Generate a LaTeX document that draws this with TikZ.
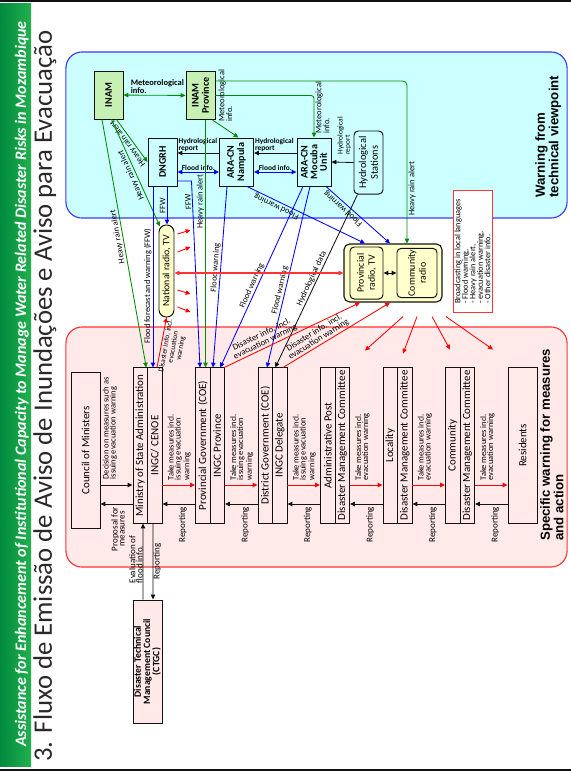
\documentclass[tikz,border=0pt]{standalone}
\usepackage{fontspec}
\setmainfont{Carlito}
\newfontfamily\headfont{Liberation Sans}
\usepackage{xcolor}
\usepackage{tikz}
\usetikzlibrary{arrows.meta,calc}
\definecolor{ink}{HTML}{111111}
\definecolor{techfill}{HTML}{CCFFFF}
\definecolor{techline}{HTML}{3A3AFF}
\definecolor{actfill}{HTML}{FFE9E9}
\definecolor{actline}{HTML}{FF3333}
\definecolor{inamfill}{HTML}{C6F0B4}
\definecolor{radiofill}{HTML}{FFFFCC}
\definecolor{alertgreen}{HTML}{008C00}
\definecolor{warnblue}{HTML}{0000FF}
\definecolor{warnred}{HTML}{FF0000}
\definecolor{bardark}{HTML}{008A3E}
\definecolor{barlight}{HTML}{22B04E}
\tikzset{
  techbox/.style={rectangle, rotate=90, draw=ink, line width=0.7pt, fill=techfill, align=center, inner sep=1pt, minimum width=1.2cm, minimum height=0.725cm, font=\fontsize{7.2}{7.3}\selectfont\bfseries},
  inambox/.style={techbox, fill=inamfill},
  stationbox/.style={techbox, rounded corners=3pt, font=\fontsize{7.4}{8.4}\selectfont},
  radiobox/.style={rectangle, rotate=90, rounded corners=3pt, draw=ink, line width=0.7pt, fill=radiofill, align=center, inner sep=1pt, font=\fontsize{7}{7.8}\selectfont},
  groupbox/.style={rectangle, rounded corners=4pt, draw=ink, line width=0.8pt, fill=radiofill, minimum width=2.45cm, minimum height=1.45cm},
  notebox/.style={rectangle, rotate=90, draw=actline, line width=0.7pt, fill=white, align=left, inner sep=1pt, minimum width=3.025cm, minimum height=0.975cm, font=\fontsize{5.9}{5.3}\selectfont},
  orgbox/.style={rectangle, rotate=90, draw=ink, line width=0.7pt, fill=actfill, align=center, inner sep=0.5pt, minimum width=3.875cm, minimum height=0.3625cm, font=\fontsize{7.8}{8}\selectfont},
  wideorgbox/.style={orgbox, minimum height=0.725cm},
  zone/.style={rectangle, rounded corners=0.4cm, line width=0.8pt, minimum width=12.525cm},
  zonelbl/.style={rotate=90, align=left, inner sep=0pt, font=\headfont\bfseries\fontsize{9.4}{9.6}\selectfont},
  lbl/.style={inner sep=0.8pt, align=center, font=\fontsize{6}{5.6}\selectfont},
  hlbl/.style={inner sep=0.5pt, align=left, font=\fontsize{5.3}{5.1}\selectfont\bfseries},
  measurelbl/.style={rotate=90, inner sep=0pt, align=left, font=\fontsize{6}{5}\selectfont},
  reportlbl/.style={rotate=90, inner sep=0pt, font=\fontsize{6.4}{5}\selectfont},
  arrow/.style={->, line width=0.6pt},
  garrow/.style={arrow, draw=alertgreen},
  barrow/.style={arrow, draw=warnblue},
  rarrow/.style={arrow, draw=warnred},
  karrow/.style={arrow, draw=ink}
}
\begin{document}
\begin{tikzpicture}[x=0.025cm, y=-0.025cm, >={Triangle[length=1.2mm,width=1.1mm]}]
  \useasboundingbox (0,0) rectangle (571,772);
  % title bar
  \fill[left color=bardark, right color=barlight] (0,3) rectangle (31,766);
  \draw[ink, line width=1.4pt] (0,1.2) -- (571,1.2);
  \draw[ink, line width=1.4pt] (0,770) -- (571,770);
  \node[rotate=90, anchor=base, inner sep=0pt, text=white, font=\fontsize{11.4}{11.4}\selectfont\bfseries\itshape] (project) at (26,384) {Assistance for Enhancement of Institutional Capacity to Manage Water Related Disaster Risks in Mozambique};
  \node[rotate=90, anchor=base, inner sep=0pt, text=ink!90, font=\fontsize{19}{19}\selectfont] (title) at (52,396) {3. Fluxo de Emissão de Aviso de Inundações e Aviso para Evacuação};

  % zones
  \node[zone, draw=techline, fill=techfill, minimum height=4.15cm] (techzone) at (316.5,135) {};
  \node[zone, draw=actline, fill=actfill, minimum height=6cm] (actzone) at (316.5,447) {};
  \node[zonelbl, anchor=north west] (techlbl) at (535,198) {Warning from\\technical viewpoint};
  \node[zonelbl, anchor=north west] (actlbl) at (540,541) {Specific warning for measures\\and action};

  % technical side
  \node[inambox] (inam) at (108.5,95) {INAM};
  \node[inambox] (inamprov) at (200.5,95.5) {INAM\\Province};
  \node[techbox] (dngrh) at (162.5,162) {DNGRH};
  \node[techbox, minimum height=0.85cm] (nampula) at (236.5,162) {ARA-CN\\Nampula};
  \node[techbox, minimum height=0.85cm, font=\fontsize{7.2}{6.9}\selectfont\bfseries] (mocuba) at (314,162) {ARA-CN\\Mocuba\\Unit};
  \node[stationbox, minimum width=1.575cm] (hydst) at (368.5,162.5) {Hydrological\\Stations};

  % broadcasters
  \node[radiobox, rounded corners=0.18cm, minimum width=2.3cm, minimum height=0.375cm] (natradio) at (166.5,271) {National radio, TV};
  \node[groupbox] (radiogrp) at (393,273) {};
  \node[radiobox, minimum width=1.3cm, minimum height=0.825cm] (provradio) at (366.5,273) {Provincial\\radio, TV};
  \node[radiobox, minimum width=1.2cm, minimum height=1.0cm] (commradio) at (417,273) {Community\\radio};
  \node[notebox] (bcast) at (472.5,251.5) {Broadcasting in local languages\\- Flood warning,\\- Heavy rain alert,\\- evacuation warning,\\- Other disaster info.};

  % action side
  \node[wideorgbox] (council) at (85.5,450.5) {Council of Ministers};
  \node[orgbox] (ministry) at (140.25,445.5) {Ministry of State Administration};
  \node[orgbox] (ingc) at (154.75,445.5) {INGC/ CENOE};
  \node[orgbox] (provgov) at (202.75,445.5) {Provincial Government (COE)};
  \node[orgbox] (ingcprov) at (217.25,445.5) {INGC Province};
  \node[orgbox] (distgov) at (265.25,445.5) {District Government (COE)};
  \node[orgbox] (ingcdel) at (279.75,445.5) {INGC Delegate};
  \node[orgbox] (adminpost) at (327.75,445.5) {Administrative Post};
  \node[orgbox] (admindmc) at (342.25,445.5) {Disaster Management Committee};
  \node[orgbox] (locality) at (390.25,445.5) {Locality};
  \node[orgbox] (localdmc) at (404.75,445.5) {Disaster Management Committee};
  \node[orgbox] (community) at (452.75,445.5) {Community};
  \node[orgbox] (commdmc) at (467.25,445.5) {Disaster Management Committee};
  \node[wideorgbox] (residents) at (522.5,445.5) {Residents};
  \node[wideorgbox, inner sep=0pt, minimum width=3.075cm, font=\fontsize{6.9}{6.6}\selectfont\bfseries] (ctgc) at (147.5,661.5) {Disaster Technical\\Management Council\\(CTGC)};

  % meteorological and hydrological info
  \draw[garrow, <->] (inam) -- (inamprov) node[hlbl, pos=0.1, anchor=south west, font=\fontsize{6}{5.8}\selectfont\bfseries] {Meteorological\\info.};
  \draw[garrow, rounded corners=2pt] (inamprov.south) -| (mocuba.east) node[lbl, pos=0.97, rotate=90, anchor=north west, align=left] {Meteorological\\info.};
  \draw[garrow] ($(inamprov.west)+(12,0)$) -- ($(nampula.east)+(2,0)$);
  \node[lbl, rotate=90, anchor=north west, align=left] (metlbl) at (217,123) {Meteorological\\info.};
  \draw[karrow] (hydst.north) -- (mocuba.south);
  \node[lbl, rotate=90, anchor=north west, align=left, font=\fontsize{5.3}{5.1}\selectfont] (hydrolbl) at (336,156) {Hydrological\\report};
  \draw[karrow] ($(mocuba.north)+(0,-9)$) -- ($(nampula.south)+(0,-9)$) node[hlbl, pos=1, anchor=south west] {Hydrological\\report};
  \draw[karrow] ($(nampula.north)+(0,-9)$) -- ($(dngrh.south)+(0,-9)$) node[hlbl, pos=1, anchor=south west] {Hydrological\\report};
  \draw[barrow, <->] ($(dngrh.south)+(0,10)$) -- ($(nampula.north)+(0,10)$) node[hlbl, midway, above] {Flood info.};
  \draw[barrow, <->] ($(nampula.south)+(0,10)$) -- ($(mocuba.north)+(0,10)$) node[hlbl, midway, above] {Flood info.};

  % heavy rain alerts
  \draw[garrow] ($(inam.west)+(8,0)$) -- (dngrh.north) node[lbl, midway, rotate=126, anchor=south] {Heavy rain alert};
  \draw[garrow] ($(inam.west)+(3,0)$) -- ($(natradio.east)+(-6.5,2)$) node[lbl, midway, rotate=114, anchor=south] {Heavy rain alert};
  \draw[garrow] ($(inam.west)+(-6.5,0)$) -- ($(ministry.east)+(6,0)$) node[lbl, pos=0.47, rotate=100, anchor=south] {Heavy rain alert};
  \draw[garrow] ($(inamprov.west)+(5,0)$) -- ($(provgov.east)+(2.75,0)$) node[lbl, pos=0.33, rotate=90, anchor=south] {Heavy rain alert};
  \draw[garrow, rounded corners=3pt] ($(inamprov.south)+(0,-14.5)$) -| ($(radiogrp.north)+(14,0)$) node[lbl, pos=0.92, rotate=90, anchor=north west] {Heavy rain alert};

  % flood forecast and warning
  \draw[barrow] ($(dngrh.west)+(4.5,0)$) -- ($(natradio.east)+(0.5,0)$) node[lbl, midway, rotate=90, anchor=south] {FFW};
  \draw[barrow] ($(dngrh.west)+(-9.5,0)$) -- ($(ingc.east)+(-1.75,0)$) node[lbl, pos=0.55, rotate=90, anchor=south] {Flood forecast and warning (FFW)};
  \draw[barrow] ($(dngrh.south)+(0,19)$) -- ++(14,0) -- ($(provgov.east)+(-2.75,0)$) node[lbl, pos=0.11, rotate=93, anchor=south] {FFW};
  \draw[barrow] ($(nampula.west)+(-9.5,0)$) -- ($(ingcprov.east)+(-4.25,0)$) node[lbl, pos=0.45, rotate=86, anchor=south] {Flood warning};
  \draw[barrow] ($(nampula.west)+(10.5,0)$) -- ($(radiogrp.north)+(-28,0)$) node[lbl, pos=0.27, rotate=154, anchor=south] {Flood warning};
  \draw[barrow] ($(mocuba.west)+(-11,0)$) -- ($(ingcprov.east)+(3,0)$) node[lbl, pos=0.56, rotate=66, anchor=south] {Flood warning};
  \draw[barrow] ($(mocuba.west)+(-4,0)$) -- ($(distgov.east)+(1.75,0)$) node[lbl, pos=0.58, rotate=77, anchor=south] {Flood warning};
  \draw[barrow] ($(mocuba.west)+(12,0)$) -- ($(radiogrp.north)+(-3,0)$) node[lbl, pos=0.32, rotate=138, anchor=south] {Flood warning};
  \draw[karrow] ($(hydst.west)+(-11,0)$) -- ($(ingcdel.east)+(-4.5,0)$) node[lbl, midway, rotate=65, anchor=south] {Hydrological data};

  % broadcasting
  \draw[karrow, <->] (provradio.south) -- (commradio.north);
  \draw[rarrow, <->, draw=warnred!80, line width=1pt] (natradio.south |- radiogrp.west) -- (radiogrp.west);
  \draw[rarrow] ($(natradio.south)+(3,-37)$) -- ++(13,-4);
  \draw[rarrow] ($(natradio.south)+(3,-19)$) -- ++(13,-5);
  \draw[rarrow] ($(natradio.south)+(3,19)$) -- ++(13,4);
  \draw[rarrow] ($(natradio.south)+(3,36)$) -- ++(13,5);
  \draw[rarrow] ($(radiogrp.south)+(10,14)$) -- ++(-38,34);
  \draw[rarrow] ($(radiogrp.south)+(24,14)$) -- ++(-14,37);
  \draw[rarrow] ($(radiogrp.south)+(39,14)$) -- ++(18,33);
  \draw[rarrow] ($(radiogrp.south)+(53,14)$) -- ++(47,33);

  % disaster info to media
  \draw[rarrow] ($(ingc.east)+(2.25,0)$) -- (natradio.west) node[lbl, pos=0.45, rotate=80, anchor=north, font=\fontsize{5.2}{5.4}\selectfont] {Disaster info. incl.\\evacuation\\warning};
  \draw[rarrow] ($(ingcprov.east)+(7,0)$) -- ($(radiogrp.south)+(-33,0)$) node[lbl, pos=0.32, rotate=26, anchor=south, font=\fontsize{6.2}{5.8}\selectfont] {Disaster info. incl.\\evacuation warning};
  \draw[rarrow] ($(ingcdel.east)+(3.25,0)$) -- ($(radiogrp.south)+(-3,0)$) node[lbl, pos=0.36, rotate=32, anchor=south, font=\fontsize{6.2}{5.8}\selectfont] {Disaster info. incl.\\evacuation warning};

  % chain of command
  \draw[karrow] ($(council.south)+(0,34.5)$) -- ($(ministry.north)+(0,39.5)$);
  \draw[karrow] ($(ministry.north)+(0,58.5)$) -- ($(council.south)+(0,53.5)$);
  \node[measurelbl, anchor=north west] (decisionlbl) at ($(council.south)+(2,29)$) {Decision on measures such as\\issuing evacuation warning};
  \node[reportlbl, align=center] (proposallbl) at ($(council.south)+(17.5,78.5)$) {Proposal for\\measures};

  \draw[rarrow] ($(ingc.south)+(0,39.5)$) -- ($(provgov.north)+(0,39.5)$);
  \draw[karrow] ($(provgov.north)+(0,58.5)$) -- ($(ingc.south)+(0,58.5)$);
  \node[measurelbl, anchor=north west] (take1) at ($(ingc.south)+(5,35)$) {Take measures incl.\\issuing evacuation\\warning};
  \node[reportlbl, anchor=south east] (report1) at ($(provgov.north)+(-8,61)$) {Reporting};

  \draw[rarrow] ($(ingcprov.south)+(0,39.5)$) -- ($(distgov.north)+(0,39.5)$);
  \draw[karrow] ($(distgov.north)+(0,58.5)$) -- ($(ingcprov.south)+(0,58.5)$);
  \node[measurelbl, anchor=north west] (take2) at ($(ingcprov.south)+(5,35)$) {Take measures incl.\\issuing evacuation\\warning};
  \node[reportlbl, anchor=south east] (report2) at ($(distgov.north)+(-8,61)$) {Reporting};

  \draw[rarrow] ($(ingcdel.south)+(0,39.5)$) -- ($(adminpost.north)+(0,39.5)$);
  \draw[karrow] ($(adminpost.north)+(0,58.5)$) -- ($(ingcdel.south)+(0,58.5)$);
  \node[measurelbl, anchor=north west] (take3) at ($(ingcdel.south)+(5,35)$) {Take measures incl.\\issuing evacuation\\warning};
  \node[reportlbl, anchor=south east] (report3) at ($(adminpost.north)+(-8,61)$) {Reporting};

  \draw[rarrow] ($(admindmc.south)+(0,39.5)$) -- ($(locality.north)+(0,39.5)$);
  \draw[karrow] ($(locality.north)+(0,58.5)$) -- ($(admindmc.south)+(0,58.5)$);
  \node[measurelbl, anchor=north west] (take4) at ($(admindmc.south)+(5,35)$) {Take measures incl.\\evacuation warning};
  \node[reportlbl, anchor=south east] (report4) at ($(locality.north)+(-8,61)$) {Reporting};

  \draw[rarrow] ($(localdmc.south)+(0,39.5)$) -- ($(community.north)+(0,39.5)$);
  \draw[karrow] ($(community.north)+(0,58.5)$) -- ($(localdmc.south)+(0,58.5)$);
  \node[measurelbl, anchor=north west] (take5) at ($(localdmc.south)+(5,35)$) {Take measures incl.\\evacuation warning};
  \node[reportlbl, anchor=south east] (report5) at ($(community.north)+(-8,61)$) {Reporting};

  \draw[rarrow] ($(commdmc.south)+(0,39.5)$) -- ($(residents.north)+(0,39.5)$);
  \draw[karrow] ($(residents.north)+(0,58.5)$) -- ($(commdmc.south)+(0,58.5)$);
  \node[measurelbl, anchor=north west] (take6) at ($(commdmc.south)+(5,35)$) {Take measures incl.\\evacuation warning};
  \node[reportlbl, anchor=south east] (report6) at ($(residents.north)+(-8,61)$) {Reporting};

  % technical council
  \draw[karrow] ($(ctgc.east)+(-4.5,0)$) -- ($(ministry.west)+(2.75,0)$) node[reportlbl, pos=0.21, anchor=south west, align=left] {Evaluation of\\flood info.};
  \draw[karrow] ($(ingc.west)+(-1.75,0)$) -- ($(ctgc.east)+(5.5,0)$) node[reportlbl, midway, anchor=north] {Reporting};
\end{tikzpicture}
\end{document}
